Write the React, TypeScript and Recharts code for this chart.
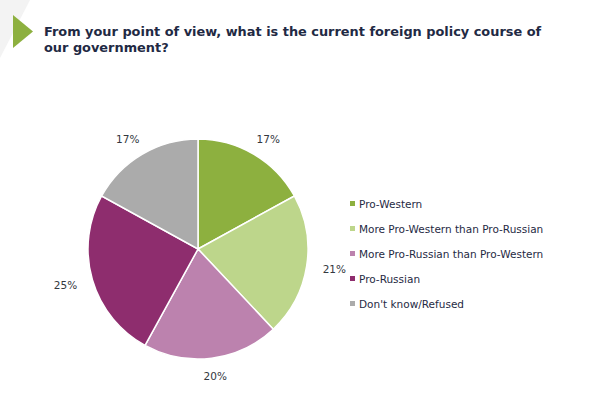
import React from "react";
import { PieChart, Pie, Cell, Legend } from "recharts";

const categories = [
  "Pro-Western",
  "More Pro-Western than Pro-Russian",
  "More Pro-Russian than Pro-Western",
  "Pro-Russian",
  "Don't know/Refused",
];
const values = [17, 21, 20, 25, 17];
const colors = ["#8DB03F", "#BDD68B", "#BC82AE", "#8E2D6E", "#ABABAB"];
const title = [
  "From your point of view, what is the current foreign policy course of",
  "our government?",
];

const data = categories.map((name, i) => ({ name, value: values[i] }));

const FONT = "'DejaVu Sans', Verdana, sans-serif";
const RAD = Math.PI / 180;

const renderLabel = (props: any) => {
  const { cx, cy, midAngle, outerRadius, value } = props;
  const x = cx + (outerRadius + 28) * Math.cos(-midAngle * RAD);
  const y = cy + (outerRadius + 18) * Math.sin(-midAngle * RAD);
  return (
    <text
      x={x}
      y={y}
      textAnchor="middle"
      dominantBaseline="central"
      fill="#333840"
      fontSize={10.5}
      fontFamily={FONT}
    >
      {`${value}%`}
    </text>
  );
};

const LegendContent = () => (
  <div style={{ fontFamily: FONT }}>
    {categories.map((name, i) => (
      <div
        key={name}
        style={{
          display: "flex",
          alignItems: "center",
          height: 25,
          fontSize: 10.5,
          color: "#1F2A44",
        }}
      >
        <span
          style={{
            display: "inline-block",
            width: 5,
            height: 5,
            background: colors[i],
            marginRight: 4,
          }}
        />
        {name}
      </div>
    ))}
  </div>
);

export default function App() {
  return (
    <div
      style={{
        position: "absolute",
        left: 0,
        top: 0,
        width: 594,
        height: 420,
        background: "#fff",
        overflow: "hidden",
      }}
    >
      <svg
        width={594}
        height={420}
        style={{ position: "absolute", left: 0, top: 0 }}
      >
        <polygon points="0,0 0,58 30,0" fill="#F3F3F3" />
        <polygon points="13,15 13,48 33,31.5" fill="#8DB03F" />
      </svg>
      <div
        style={{
          position: "absolute",
          left: 44,
          top: 24,
          fontFamily: FONT,
          fontWeight: "bold",
          fontSize: 12.9,
          lineHeight: "16px",
          color: "#1F2A44",
          whiteSpace: "nowrap",
        }}
      >
        {title.map((t, i) => (
          <div key={i}>{t}</div>
        ))}
      </div>
      <div style={{ position: "absolute", left: 0, top: 0 }}>
        <PieChart
          width={594}
          height={420}
          margin={{ top: 0, right: 0, bottom: 0, left: 0 }}
        >
          <Pie
            data={data}
            dataKey="value"
            nameKey="name"
            cx={198}
            cy={249}
            outerRadius={110}
            startAngle={90}
            endAngle={-270}
            stroke="#ffffff"
            strokeWidth={1.5}
            label={renderLabel}
            labelLine={false}
            isAnimationActive={false}
          >
            {data.map((d, i) => (
              <Cell key={d.name} fill={colors[i]} />
            ))}
          </Pie>
          <Legend
            layout="vertical"
            content={<LegendContent />}
            wrapperStyle={{ left: 350, top: 191, width: 240 }}
          />
        </PieChart>
      </div>
    </div>
  );
}
